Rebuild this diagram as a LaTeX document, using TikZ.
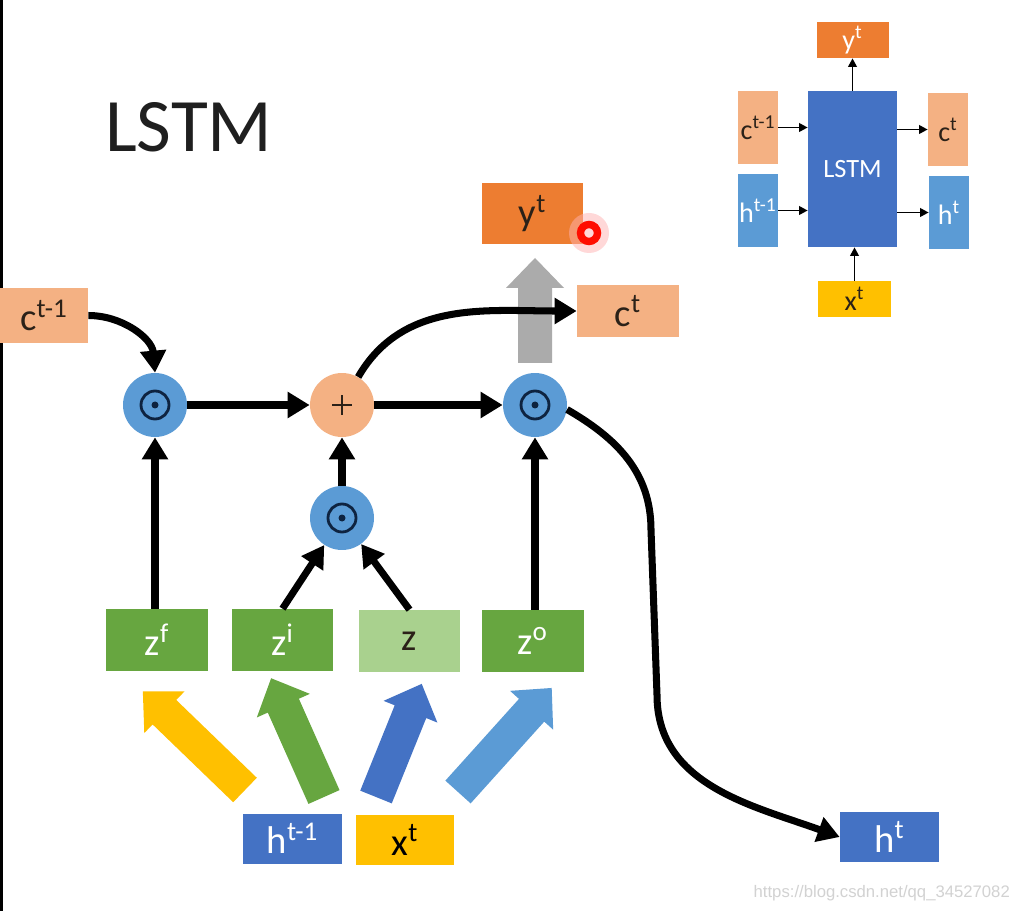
\documentclass[tikz,border=0pt]{standalone}
\usepackage{fontspec}
\setmainfont{Carlito}
\newfontfamily\markfont{Liberation Sans}
\usetikzlibrary{arrows.meta}

\definecolor{cellpink}{HTML}{F4B183}
\definecolor{dotblue}{HTML}{5B9BD5}
\definecolor{gategreen}{HTML}{67A640}
\definecolor{candgreen}{HTML}{A9D18E}
\definecolor{hidblue}{HTML}{4472C4}
\definecolor{inyellow}{HTML}{FFC000}
\definecolor{outorange}{HTML}{ED7D31}
\definecolor{ringnavy}{HTML}{0E2340}
\definecolor{darktext}{HTML}{2B2118}
\definecolor{fatgray}{HTML}{ABABAB}

\newcommand{\up}[1]{\textsuperscript{#1}}
% block arrow: colour, tail point, angle, length
\newcommand{\fatarrow}[4]{%
  \fill[#1, shift={(#2)}, rotate=#3] (0,-17) -- ({#4-30},-17) -- ({#4-30},-29)
    -- (#4,0) -- ({#4-30},29) -- ({#4-30},17) -- (0,17) -- cycle;}

\begin{document}
\begin{tikzpicture}[x=0.02cm, y=0.02cm,
        lbl/.style={font=\fontsize{22}{26}\selectfont},
        small/.style={font=\fontsize{16}{18}\selectfont},
        gate/.style={rectangle, inner sep=0pt, fill=gategreen, text=white,
            minimum width=2.04cm, minimum height=1.24cm, lbl},
        odot/.style={circle, fill=dotblue, minimum size=1.28cm, inner sep=0pt,
            path picture={
              \draw[ringnavy, line width=1.6pt] (path picture bounding box.center) circle (0.28cm);
              \fill[ringnavy] (path picture bounding box.center) circle (0.07cm);}},
        plusdot/.style={circle, fill=cellpink, minimum size=1.28cm, inner sep=0pt,
            path picture={
              \draw[darktext, line width=0.8pt]
                ([xshift=-0.2cm]path picture bounding box.center) -- ([xshift=0.2cm]path picture bounding box.center)
                ([yshift=-0.2cm]path picture bounding box.center) -- ([yshift=0.2cm]path picture bounding box.center);}},
        flow/.style={line width=4pt, -{Triangle[length=0.44cm,width=0.5cm]}},
        smallflow/.style={line width=1.1pt, -{Triangle[length=0.17cm,width=0.17cm]}}]

\useasboundingbox (0,0) rectangle (1026,-911);
\fill[white] (0,0) rectangle (1026,-911);
\fill[black] (0,0) rectangle (2.5,-911);

\node[anchor=base west, text=black!88, font=\fontsize{43}{50}\selectfont] (title) at (99,-152) {LSTM};

% big input arrows
\fatarrow{inyellow}{245,-790}{136}{142}
\fatarrow{gategreen}{324,-797}{114}{130}
\fatarrow{hidblue}{376,-797}{68}{122}
\fatarrow{dotblue}{458,-792}{48}{140}
\fatarrow{fatgray}{535,-363}{90}{105}

% cell
\node[rectangle, inner sep=0pt, fill=cellpink, text=darktext, minimum width=1.76cm, minimum height=1.1cm, lbl] (cprev) at (44,-315.5) {c\up{t-1}};
\node[odot] (dotF) at (155,-405) {};
\node[plusdot] (plusC) at (342,-405) {};
\node[odot] (dotO) at (535,-405) {};
\node[odot] (dotI) at (342,-518) {};

\node[gate] (zf) at (157,-640) {z\up{f}};
\node[gate] (zi) at (282.5,-640) {z\up{i}};
\node[gate, fill=candgreen, text=darktext] (zc) at (409.5,-641) {z};
\node[gate] (zo) at (532.5,-641) {z\up{o}};

\node[rectangle, inner sep=0pt, fill=hidblue, text=white, minimum width=1.98cm, minimum height=1cm, lbl] (hprev) at (292.5,-838.5) {h\up{t-1}};
\node[rectangle, inner sep=0pt, fill=inyellow, text=black, minimum width=1.98cm, minimum height=1cm, lbl] (xt) at (405,-840) {x\up{t}};
\node[rectangle, inner sep=0pt, fill=hidblue, text=white, minimum width=1.98cm, minimum height=1cm, lbl] (ht) at (889.5,-837) {h\up{t}};
\node[rectangle, inner sep=0pt, fill=outorange, text=darktext, minimum width=2.02cm, minimum height=1.22cm, lbl] (yt) at (532.5,-213.5) {y\up{t}};
\node[rectangle, inner sep=0pt, fill=cellpink, text=darktext, minimum width=2.04cm, minimum height=1.04cm, lbl] (ct) at (628,-311) {c\up{t}};

\coordinate (bendA) at (651,-530);
\coordinate (bendB) at (657,-695);

\draw[flow] (cprev.east) to[out=0, in=95] (dotF.north);
\draw[flow] (dotF) -- (plusC);
\draw[flow] (plusC) -- (dotO);
\draw[flow] (zf.north -| dotF) -- (dotF.south);
\draw[flow] (zi.north) -- (dotI);
\draw[flow] (zc.north) -- (dotI);
\draw[flow] (dotI) -- (plusC);
\draw[flow] (zo.north -| dotO) -- (dotO.south);
\draw[flow] (plusC.60) to[out=60, in=180] (ct.west);
\draw[flow] (dotO.-8) to[out=-30, in=90] (bendA) -- (bendB) to[out=-90, in=160] (ht.west);

% pointer
\coordinate (pointer) at (589,-233);
\fill[red!30, opacity=0.5] (pointer) circle (20);
\draw[red!90!orange, line width=4.2pt] (pointer) circle (8.5);

% small LSTM block
\node[rectangle, inner sep=0pt, fill=outorange, text=white, minimum width=1.44cm, minimum height=0.72cm, small] (yS) at (852.5,-40) {y\up{t}};
\node[rectangle, inner sep=0pt, fill=hidblue, text=white, minimum width=1.78cm, minimum height=3.12cm, font=\fontsize{15}{17}\selectfont] (lstmS) at (852.5,-169) {LSTM};
\node[rectangle, inner sep=0pt, fill=cellpink, text=darktext, minimum width=0.8cm, minimum height=1.46cm, small] (cprevS) at (758,-127.5) {c\up{t-1}};
\node[rectangle, inner sep=0pt, fill=dotblue, text=white, minimum width=0.8cm, minimum height=1.46cm, small] (hprevS) at (758,-210.5) {h\up{t-1}};
\node[rectangle, inner sep=0pt, fill=cellpink, text=darktext, minimum width=0.8cm, minimum height=1.46cm, small] (ctS) at (948,-129.5) {c\up{t}};
\node[rectangle, inner sep=0pt, fill=dotblue, text=white, minimum width=0.8cm, minimum height=1.46cm, small] (htS) at (949,-212.5) {h\up{t}};
\node[rectangle, inner sep=0pt, fill=inyellow, text=darktext, minimum width=1.46cm, minimum height=0.72cm, small] (xS) at (854.5,-299) {x\up{t}};

\draw[smallflow] (cprevS.east) -- (cprevS.east -| lstmS.west);
\draw[smallflow] (hprevS.east) -- (hprevS.east -| lstmS.west);
\draw[smallflow] (lstmS.east |- ctS) -- (ctS.west);
\draw[smallflow] (lstmS.east |- htS) -- (htS.west);
\draw[smallflow] (lstmS.north) -- (yS.south);
\draw[smallflow] (xS.north) -- (xS.north |- lstmS.south);

\node[anchor=east, text=gray!35, font=\markfont\fontsize{9.5}{11}\selectfont] (mark) at (1016,-893) {https://blog.csdn.net/qq\_34527082};

\end{tikzpicture}
\end{document}
